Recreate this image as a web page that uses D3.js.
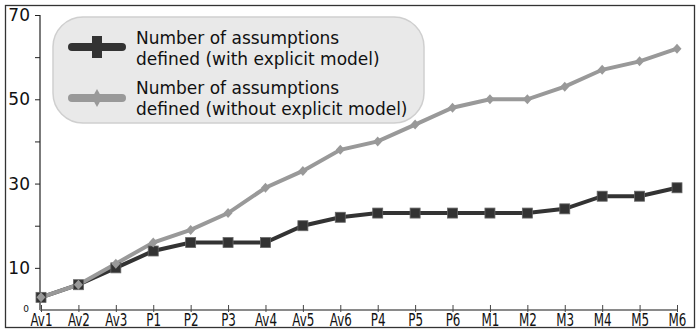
<!DOCTYPE html>
<html>
<head>
<meta charset="utf-8">
<script src="https://cdn.jsdelivr.net/npm/d3@7"></script>
<style>
  body { margin: 0; background: #fff; }
  text { font-family: "DejaVu Sans", sans-serif; fill: #111; }
</style>
</head>
<body>
<div id="chart"></div>
<script>
var categories = ["Av1", "Av2", "Av3", "P1", "P2", "P3", "Av4", "Av5", "Av6",
  "P4", "P5", "P6", "M1", "M2", "M3", "M4", "M5", "M6"];
var withModel = [3, 6, 10, 14, 16, 16, 16, 20, 22, 23, 23, 23, 23, 23, 24, 27, 27, 29];
var withoutModel = [3, 6, 11, 16, 19, 23, 29, 33, 38, 40, 44, 48, 50, 50, 53, 57, 59, 62];
var yTicks = [10, 20, 30, 40, 50, 60, 70];
var yLabels = [10, 30, 50, 70];
var legendLabels = [
  ["Number of assumptions", "defined (with explicit model)"],
  ["Number of assumptions", "defined (without explicit model)"]
];

var width = 697, height = 330;
var svg = d3.select("#chart")
  .append("svg")
  .attr("width", width)
  .attr("height", height);

// outer frame
svg.append("rect")
  .attr("x", 5.5).attr("y", 5.5)
  .attr("width", 689).attr("height", 322)
  .attr("fill", "none")
  .attr("stroke", "#333")
  .attr("stroke-width", 1.3);

var x = d3.scalePoint()
  .domain(categories)
  .range([41, 677]);

var y = d3.scaleLinear()
  .domain([0, 70])
  .range([310, 15]);

// y axis
var yAxis = svg.append("g")
  .attr("transform", "translate(40,0)")
  .call(d3.axisLeft(y)
    .tickValues(yTicks)
    .tickSize(5)
    .tickFormat(function (d) { return yLabels.indexOf(d) >= 0 ? d : ""; }));
yAxis.select(".domain")
  .attr("d", "M0," + y(70) + "V" + y(0))
  .attr("stroke", "#222")
  .attr("stroke-width", 1.2);
yAxis.selectAll(".tick line").attr("stroke", "#222");
yAxis.selectAll(".tick text")
  .attr("x", -10)
  .style("font-size", "17px")
  .attr("fill", "#111");

svg.append("text")
  .attr("x", 26)
  .attr("y", 312)
  .attr("text-anchor", "middle")
  .style("font-size", "9px")
  .text("0");

// x axis
var xAxis = svg.append("g")
  .attr("transform", "translate(0," + y(0) + ")")
  .call(d3.axisBottom(x).tickSize(0).tickPadding(0));
xAxis.select(".domain")
  .attr("d", "M40,0H" + x("M6"))
  .attr("stroke", "#8a8a8a")
  .attr("stroke-width", 2);
xAxis.selectAll(".tick line")
  .attr("y1", -5).attr("y2", 2)
  .attr("stroke", "#444");
xAxis.selectAll(".tick text")
  .attr("y", 0)
  .attr("dy", 0)
  .attr("transform", "translate(0,15.5) scale(0.78,1)")
  .style("font-family", "'DejaVu Sans Condensed', 'DejaVu Sans', sans-serif")
  .style("font-size", "17px")
  .attr("fill", "#111");

// lines
var line = d3.line()
  .x(function (d, i) { return x(categories[i]); })
  .y(function (d) { return y(d); });

svg.append("path")
  .datum(withModel)
  .attr("d", line)
  .attr("fill", "none")
  .attr("stroke", "#333")
  .attr("stroke-width", 4);

svg.append("path")
  .datum(withoutModel)
  .attr("d", line)
  .attr("fill", "none")
  .attr("stroke", "#999")
  .attr("stroke-width", 4);

svg.append("g")
  .selectAll("rect")
  .data(withModel)
  .enter()
  .append("rect")
  .attr("x", function (d, i) { return x(categories[i]) - 5; })
  .attr("y", function (d) { return y(d) - 5; })
  .attr("width", 10)
  .attr("height", 10)
  .attr("fill", "#333")
  .attr("stroke", "#666")
  .attr("stroke-width", 0.8);

svg.append("g")
  .selectAll("path")
  .data(withoutModel)
  .enter()
  .append("path")
  .attr("d", function (d, i) {
    var cx = x(categories[i]), cy = y(d);
    return "M" + cx + "," + (cy - 5) + "L" + (cx + 4.5) + "," + cy +
      "L" + cx + "," + (cy + 5) + "L" + (cx - 4.5) + "," + cy + "Z";
  })
  .attr("fill", "#999");

// legend
var legend = svg.append("g");
legend.append("rect")
  .attr("x", 53).attr("y", 17)
  .attr("width", 371).attr("height", 106)
  .attr("rx", 30).attr("ry", 30)
  .attr("fill", "#e9e9e9")
  .attr("stroke", "#cfcfcf")
  .attr("stroke-width", 1.5);

legend.append("line")
  .attr("x1", 72).attr("x2", 122)
  .attr("y1", 47).attr("y2", 47)
  .attr("stroke", "#333").attr("stroke-width", 8)
  .attr("stroke-linecap", "round");
legend.append("rect")
  .attr("x", 92).attr("y", 36)
  .attr("width", 10).attr("height", 22)
  .attr("fill", "#333");

legend.append("line")
  .attr("x1", 72).attr("x2", 122)
  .attr("y1", 98).attr("y2", 98)
  .attr("stroke", "#999").attr("stroke-width", 8)
  .attr("stroke-linecap", "round");
legend.append("path")
  .attr("d", "M97,89L102,98L97,107L92,98Z")
  .attr("fill", "#999");

var baselines = [[44, 65], [94, 115]];
legendLabels.forEach(function (lines, k) {
  lines.forEach(function (t, j) {
    legend.append("text")
      .attr("x", 136)
      .attr("y", baselines[k][j])
      .style("font-size", "17px")
      .text(t);
  });
});
</script>
</body>
</html>
